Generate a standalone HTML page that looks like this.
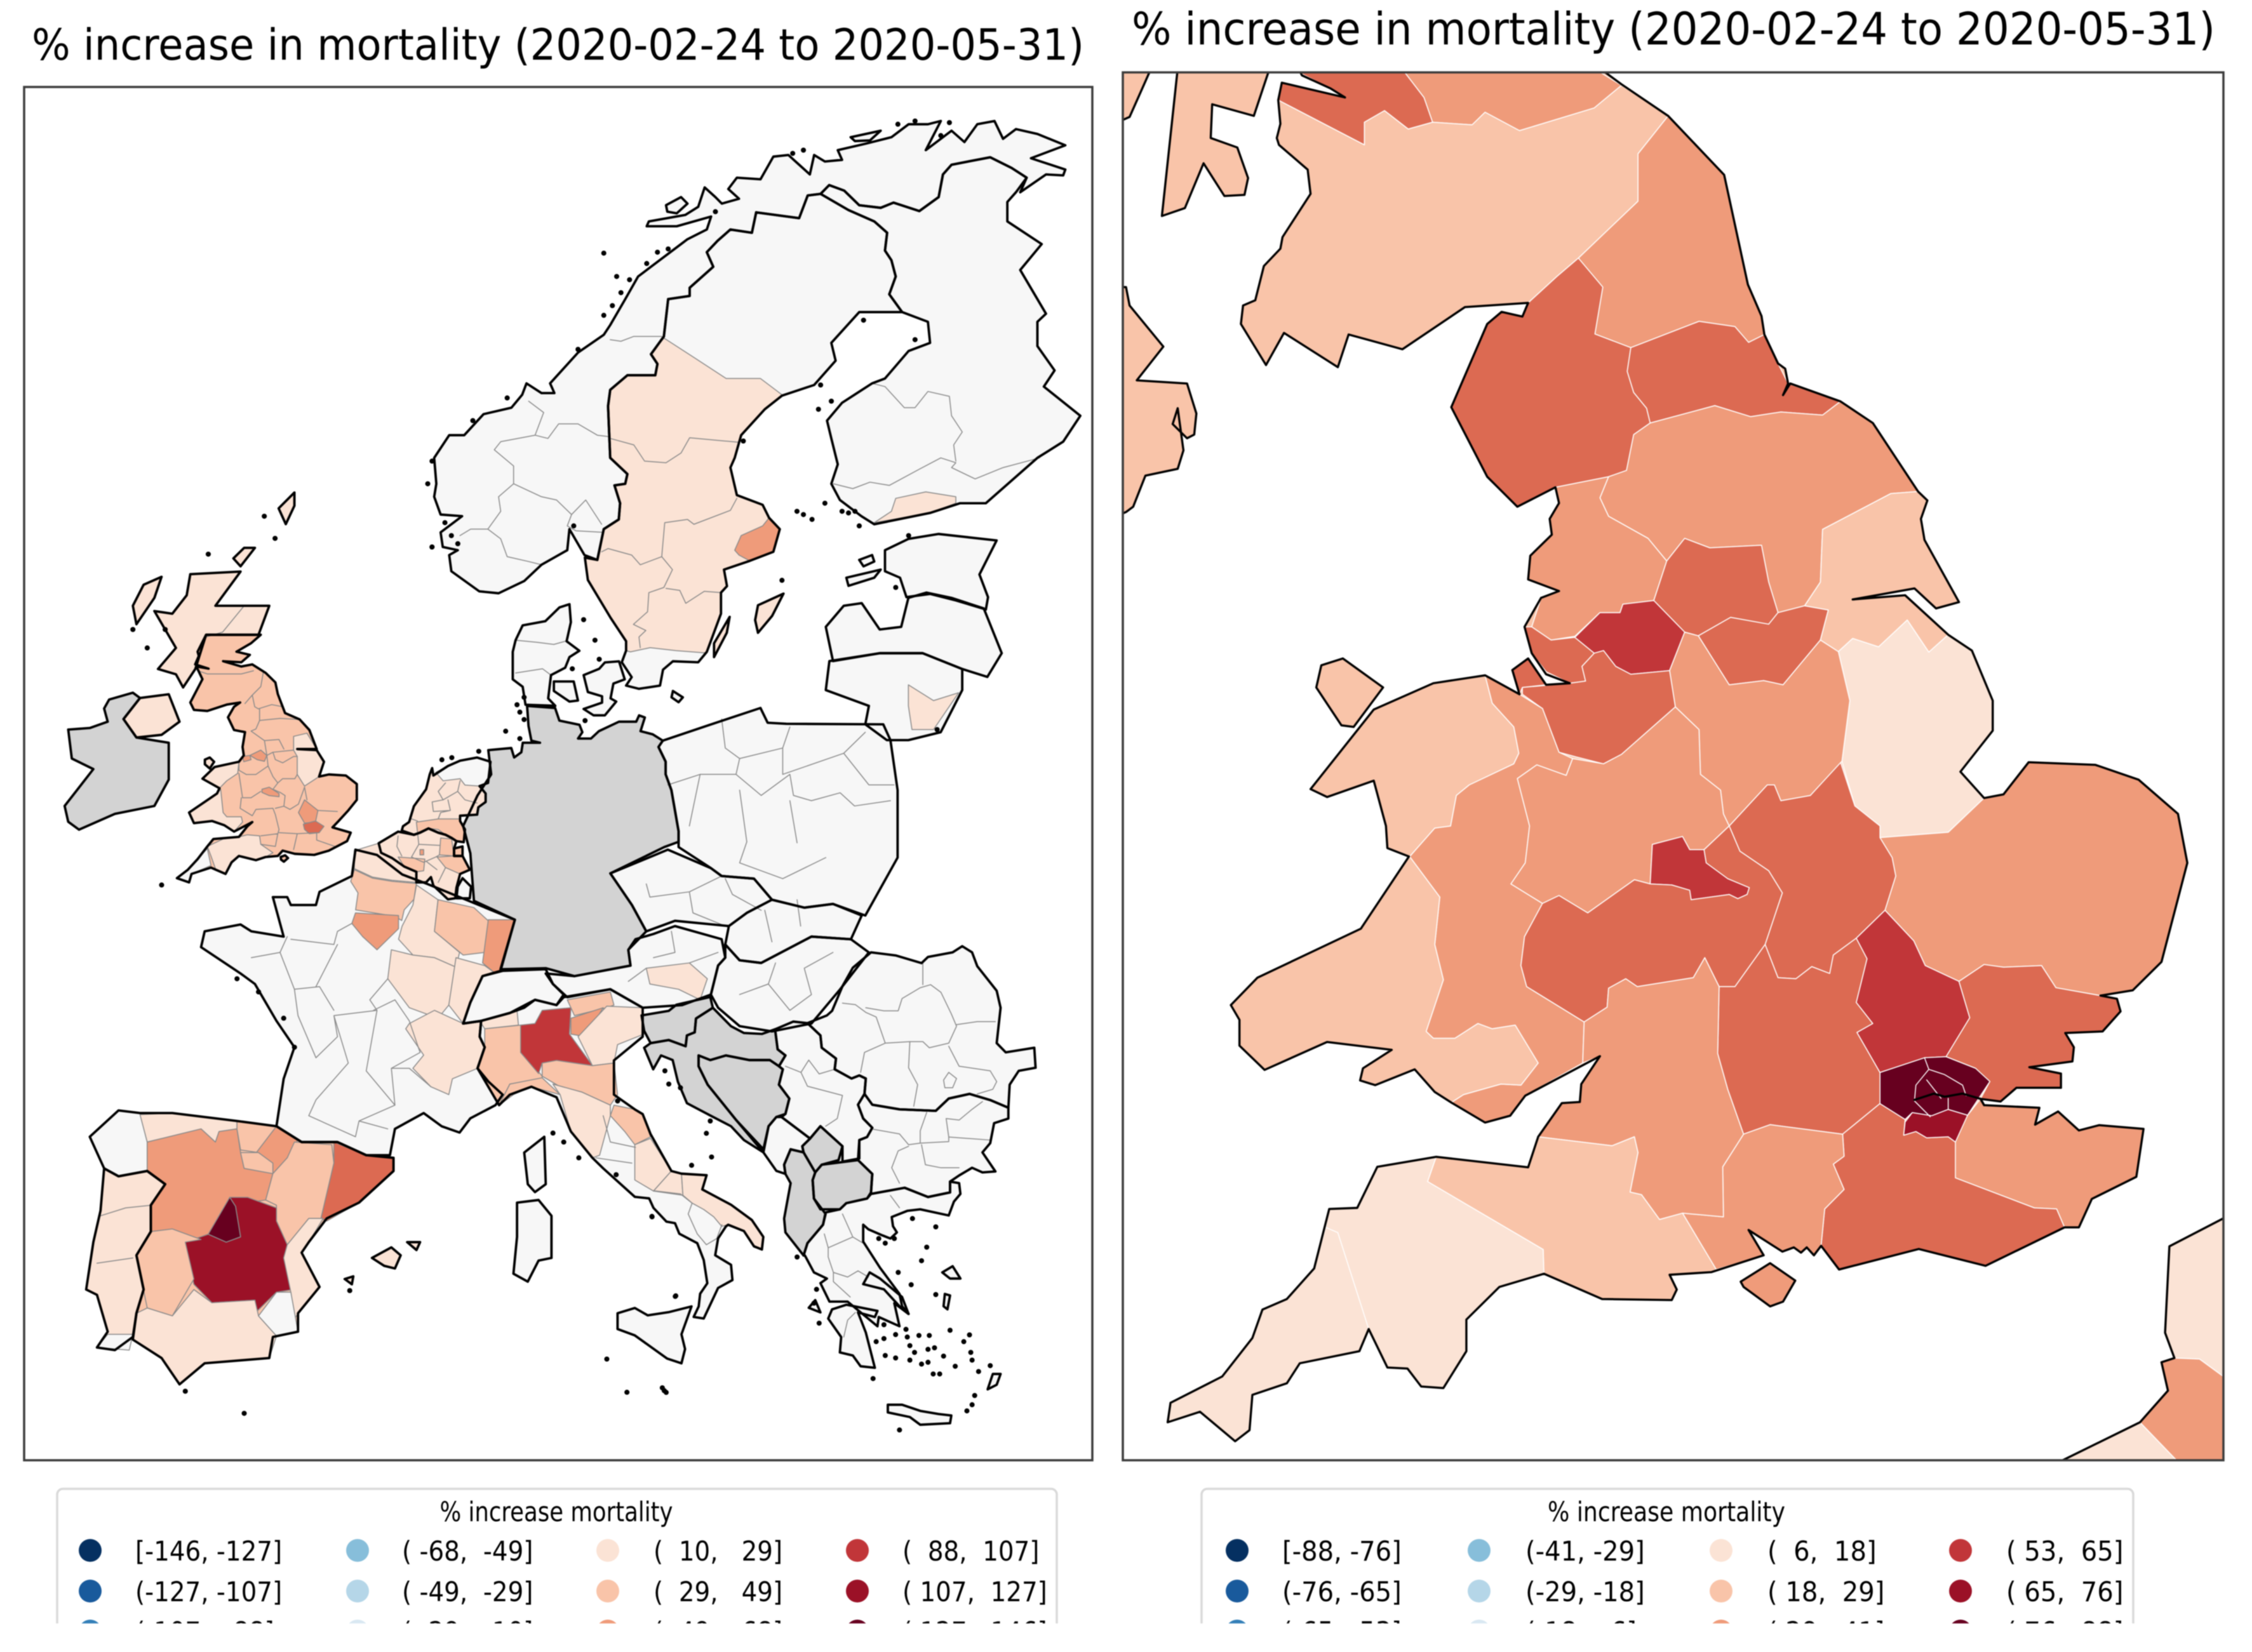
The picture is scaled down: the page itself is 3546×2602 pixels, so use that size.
<!DOCTYPE html>
<html lang="en">
<head>
<meta charset="utf-8">
<title>% increase in mortality maps</title>
<style>
html,body{margin:0;padding:0;background:#fff}
svg{display:block;filter:blur(.7px)}
text{font-family:"DejaVu Sans","Liberation Sans",sans-serif;fill:#000;white-space:pre}
polygon,polyline,path{vector-effect:non-scaling-stroke;stroke-linejoin:round;stroke-linecap:round}
#left-regions polygon{stroke:#8a8a8a;stroke-width:1.5}
#right-regions polygon{stroke:#fff;stroke-width:1.5}
.inner-left{fill:none;stroke:#8a8a8a;stroke-width:1.5}
.inner-right{fill:none;stroke:#fff;stroke-width:1.5}
.outline{fill:none!important;stroke:#000!important;stroke-width:3.4!important}
#left-outlines .outline{stroke-width:3.8!important}
.coast{fill:none;stroke:#000;stroke-width:3.4}
.dots{fill:none;stroke:#000;stroke-width:8}
</style>
</head>
<body>
<svg id="figure" xmlns="http://www.w3.org/2000/svg" width="3546" height="2602" viewBox="0 0 3546 2602">
<defs>
<clipPath id="clip-left"><rect x="38" y="137" width="1682" height="2163"/></clipPath>
<clipPath id="clip-right"><rect x="1768" y="114" width="1733" height="2186"/></clipPath>
<clipPath id="clip-legend"><rect x="0" y="2330" width="3546" height="227"/></clipPath>
</defs>
<rect width="3546" height="2602" fill="#fff"/>

<text x="50" y="94" font-size="68" textLength="1657" lengthAdjust="spacingAndGlyphs">% increase in mortality (2020-02-24 to 2020-05-31)</text>
<text x="1782" y="70" font-size="70" textLength="1706" lengthAdjust="spacingAndGlyphs">% increase in mortality (2020-02-24 to 2020-05-31)</text>

<g clip-path="url(#clip-left)">
<g id="left-map" transform="scale(1.1307 0.8297)">
<g id="left-regions">
<g id="left-top">
<polygon class="c" data-region="latvia" points="1265,1135 1290,1125 1325,1135 1370,1155 1395,1240 1375,1285 1340,1270 1285,1240 1225,1240 1160,1255 1150,1190 1175,1150 1200,1145 1225,1195 1255,1190"/>
<polygon class="c" data-region="lithuania" points="1155,1255 1225,1240 1285,1240 1340,1270 1340,1310 1310,1390 1265,1405 1235,1405 1205,1375 1210,1340 1150,1310"/>
<polygon data-region="vilnius" points="1265,1300 1300,1330 1335,1315 1300,1385 1270,1385 1265,1340"/>
<polygon class="c" data-region="germany" points="734,1340 773,1344 779,1368 807,1376 811,1390 805,1402 823,1402 834,1388 862,1370 886,1370 890,1358 898,1362 892,1388 909,1394 923,1406 917,1418 927,1446 927,1470 935,1500 945,1578 945,1598 925,1608 850,1658 880,1718 900,1768 875,1803 878,1833 800,1853 760,1838 697,1840 717,1746 660,1710 655,1620 645,1568 665,1510 684,1470 680,1424 712,1420 716,1438 726,1428 728,1410 752,1410 740,1406 736,1378"/>
<polygon class="c" data-region="poland" points="923,1406 984,1378 1059,1344 1069,1372 1095,1374 1230,1375 1240,1405 1250,1500 1250,1568 1250,1628 1205,1738 1160,1716 1120,1723 1075,1708 1050,1668 1005,1663 990,1648 945,1608 945,1578 935,1500 927,1470 927,1446 917,1418"/>
<polygon class="c" data-region="ireland" points="95,1385 125,1382 150,1370 145,1345 152,1328 185,1315 195,1325 172,1365 190,1400 235,1410 235,1480 215,1530 160,1545 110,1575 95,1560 90,1530 110,1495 130,1460 100,1440"/>
<polygon class="c" data-region="northern-ireland" points="172,1365 195,1325 235,1318 250,1370 225,1395 190,1400"/>
<polygon class="c" data-region="outer-hebrides" points="225,1095 200,1110 185,1150 190,1185 215,1135"/>
<polygon class="c" data-region="shetland" points="410,935 388,965 398,995 410,960"/>
<polygon class="c" data-region="orkney" points="340,1040 325,1060 335,1075 355,1040"/>
<polygon class="c" data-region="scottish-highlands" points="265,1090 335,1085 300,1150 375,1150 360,1205 287,1205 272,1270 255,1305 245,1280 220,1270 245,1230 215,1160 240,1165 260,1130"/>
<polygon class="c" data-region="france" points="495,1613 525,1623 560,1660 595,1678 640,1703 717,1746 697,1843 672,1853 655,1903 645,1943 670,1938 668,1968 675,1988 665,2028 680,2053 700,2078 690,2098 655,2123 640,2150 615,2138 590,2113 550,2143 543,2193 510,2193 470,2168 420,2168 385,2138 395,2048 410,1988 385,1938 355,1868 335,1848 280,1798 285,1768 335,1755 350,1768 395,1778 380,1703 400,1703 405,1718 440,1718 445,1693 490,1663"/>
</g>

<g id="left-scandinavia" transform="translate(583.7 192.8) scale(0.5979 0.6149)">
<polygon class="c" data-region="norway" points="185,1518 140,1512 75,1450 70,1400 90,1385 55,1375 50,1330 100,1280 50,1275 35,1220 40,1180 35,1100 70,1030 105,1030 150,965 215,945 240,905 250,870 285,900 315,900 305,870 370,775 430,720 445,690 480,610 510,540 540,510 610,440 625,425 670,395 680,355 600,385 530,385 535,370 620,350 650,325 665,265 690,295 705,315 745,300 720,270 740,235 795,240 825,170 860,165 885,195 910,225 920,165 945,185 985,180 975,150 1040,130 1100,110 1140,70 1185,70 1215,60 1180,150 1240,90 1270,125 1300,70 1340,60 1360,115 1390,85 1440,100 1505,135 1425,175 1505,210 1500,228 1460,225 1400,280 1415,235 1380,205 1330,172 1240,195 1220,225 1210,295 1165,338 1105,312 1075,328 1025,320 990,275 955,258 935,285 905,290 885,360 785,342 775,405 725,395 695,430 670,465 685,510 630,575 630,600 580,610 570,725 540,780 555,810 550,845 485,845 445,890 440,940 445,1100 485,1150 480,1180 455,1185 468,1240 465,1290 430,1320 415,1415 385,1400 350,1320 345,1385 285,1430 245,1480"/>
<polygon class="c" data-region="vesteralen" points="575,320 610,295 625,315 600,345 578,340"/>
<polygon class="c" data-region="soroya" points="1005,110 1075,90 1050,120 1015,122"/>
<polygon class="c" data-region="sweden-north" points="935,285 1000,335 1060,370 1090,405 1085,460 1100,490 1110,540 1095,595 1125,650 1025,650 960,745 970,800 920,875 845,908 805,950 750,1030 735,1100 725,1130 740,1215 800,1245 815,1285 840,1320 825,1390 770,1418 710,1445 717,1496 703,1516 703,1581 670,1699 650,1731 591,1728 568,1754 561,1803 512,1813 482,1803 495,1777 472,1731 482,1695 482,1666 446,1594 393,1477 386,1408 415,1415 430,1320 465,1290 468,1240 455,1185 480,1180 485,1150 445,1100 440,940 445,890 485,845 550,845 555,810 540,780 570,725 580,610 630,600 630,575 685,510 670,465 695,430 725,395 775,405 785,342 885,360 905,290"/>
<polygon data-region="sweden-central" points="570,730 640,790 715,855 795,855 845,905 805,950 750,1030 735,1100 725,1130 740,1215 800,1245 815,1285 840,1320 825,1390 770,1418 710,1445 717,1496 703,1516 703,1581 670,1699 664,1702 598,1695 538,1686 492,1699 482,1695 482,1666 446,1594 393,1477 386,1408 415,1415 430,1320 465,1290 468,1240 455,1185 480,1180 485,1150 445,1100 440,940 445,890 485,845 550,845 555,810 540,780"/>
<polygon data-region="stockholm" points="815,1285 840,1320 825,1390 770,1418 745,1400 735,1385 750,1340 800,1310"/>
<polygon class="c" data-region="finland" points="935,285 955,258 990,275 1025,320 1075,328 1105,312 1165,338 1210,295 1220,225 1240,195 1330,172 1380,205 1415,235 1390,280 1370,310 1370,370 1450,440 1400,520 1460,655 1440,680 1440,755 1480,830 1455,880 1540,970 1500,1050 1440,1100 1320,1240 1260,1240 1190,1270 1060,1305 1030,1280 980,1230 960,1180 975,1120 960,1040 950,985 985,930 1020,900 1055,870 1085,855 1140,770 1190,745 1185,680 1125,650 1095,595 1110,540 1100,490 1085,460 1090,405 1060,370 1000,335"/>
<polygon data-region="helsinki" points="1060,1300 1100,1265 1110,1225 1180,1205 1250,1220 1250,1240 1190,1270"/>
<polygon class="c" data-region="estonia" points="1085,1385 1140,1350 1210,1335 1345,1355 1305,1460 1325,1530 1320,1568 1250,1540 1190,1520 1135,1530 1120,1470 1085,1450"/>
<polygon class="c" data-region="saaremaa" points="995,1470 1075,1445 1060,1470 1000,1495"/>
<polygon class="c" data-region="hiiumaa" points="1025,1415 1055,1400 1060,1420 1035,1435"/>
<path class="inner-left" d="M445,735 470,740 500,725 565,725M255,925 290,960 270,1030 300,1040 325,995 370,995 415,1030 445,1035M270,1030 190,1050 175,1075 220,1125 220,1180 185,1220 190,1265 160,1320 190,1350 205,1405 255,1420 285,1430M220,1180 285,1220 320,1230 355,1275 388,1230 425,1305M355,1275 345,1310 365,1325 430,1330M160,1320 120,1320 95,1340M445,1040 500,1060 525,1110 575,1115 610,1085 630,1038 745,1052M740,1225 725,1262 640,1305 625,1290 572,1300 565,1405 515,1430 495,1400 440,1380 425,1390M565,1405 590,1445 570,1500 535,1516 532,1575 499,1614 528,1633 512,1653 515,1686M575,1503 607,1509 621,1549 664,1512 703,1516M965,1180 1010,1195 1050,1175 1095,1185 1165,1135 1215,1100 1250,1115 1240,1130 1295,1165 1360,1130 1445,1100M1055,870 1085,880 1130,945 1155,945 1185,895 1235,910 1240,970 1265,1020 1245,1060 1250,1110"/>
</g>

<g id="left-denmark" transform="translate(566 903.9) scale(0.3948 0.4018)">
<polygon class="c" data-region="jutland" points="575,605 540,620 490,685 410,705 385,775 375,830 375,960 410,995 420,1080 525,1085 500,1050 510,940 560,905 575,855 610,825 565,780 580,690"/>
<polygon class="c" data-region="fyn" points="520,970 590,970 605,1060 575,1065 520,1015"/>
<polygon class="c" data-region="zealand" points="625,940 680,910 700,880 750,875 770,960 730,980 720,1050 740,1065 700,1130 660,1130 625,1100 690,1070 690,1040 640,1020"/>
<polygon class="c" data-region="gotland" points="1330,555 1240,610 1230,680 1240,740 1290,660"/>
<polygon class="c" data-region="oland" points="1140,665 1085,790 1085,855 1130,740"/>
<polygon class="c" data-region="bornholm" points="940,1015 975,1045 960,1068 935,1045"/>
<path class="inner-left" d="M385,775 460,785 520,795 560,780M385,930 480,910 510,940"/>
</g>

<g id="left-uk" transform="translate(221 1205) scale(0.3385 0.4018)">
<polygon class="c" data-region="great-britain" points="195,0 420,0 380,40 320,80 375,95 340,130 265,125 340,150 385,140 440,180 480,225 490,280 520,370 580,400 620,450 650,540 570,540 650,545 680,600 660,670 700,660 770,665 815,705 815,780 780,830 740,880 715,910 790,935 775,975 700,1020 640,1040 560,1035 510,1020 490,1045 440,1050 400,1065 330,1045 300,1075 275,1130 235,1110 215,1100 135,1130 125,1170 75,1150 120,1110 160,1060 200,1000 225,965 330,955 365,905 385,885 310,930 270,900 220,880 145,890 125,840 240,750 250,725 180,680 230,625 330,600 350,570 345,530 355,460 310,450 285,390 310,340 335,320 280,330 200,360 145,355 130,320 180,210 155,150 205,160 150,140 165,100 160,80"/>
<polygon data-region="devon-dorset" points="265,965 330,955 365,945 415,950 420,990 470,1030 440,1050 400,1065 330,1045 300,1075 275,1130 235,1110 215,1045 200,1000"/>
<polygon data-region="cornwall" points="200,1010 215,1090 135,1130 125,1170 75,1150 120,1110 160,1060"/>
<polygon data-region="north-wales" points="230,625 330,600 325,655 280,690 250,725 180,680"/>
<polygon data-region="south-wales" points="255,730 265,840 280,860 340,860 345,885 310,930 270,900 220,880 145,890 125,840 240,750"/>
<polygon data-region="lincolnshire" points="555,480 610,465 650,540 570,540 650,545 680,600 660,670 600,715 570,660 570,575 555,545"/>
<polygon data-region="greater-manchester" points="375,570 420,545 445,570 435,598 405,590"/>
<polygon data-region="merseyside" points="345,575 375,570 380,590 350,600"/>
<polygon data-region="west-midlands" points="425,730 455,720 495,750 495,765 455,760 425,745"/>
<polygon data-region="herts-beds" points="600,780 655,830 645,885 600,890 575,840"/>
<polygon data-region="london" points="595,895 645,880 680,905 660,935 620,940 600,920"/>
<polygon class="c" data-region="isle-of-wight" points="502,1050 520,1042 532,1055 515,1072 503,1062"/>
<polygon class="c" data-region="anglesey" points="190,590 210,580 228,600 210,632 190,612"/>
<polygon class="c" data-region="netherlands" points="1115,660 1125,630 1130,665 1190,620 1240,595 1310,580 1365,600 1355,700 1320,715 1345,750 1345,790 1315,815 1310,850 1240,855 1240,880 1260,920 1255,980 1225,975 1205,960 1180,945 1150,935 1110,915 1075,935 1050,945 1000,925 1005,905 1030,885 1050,810 1100,730"/>
<polygon data-region="groningen" points="1190,620 1240,595 1310,580 1365,600 1355,700 1320,715 1260,710 1240,680 1170,690 1140,650"/>
<polygon data-region="limburg-nl" points="1060,885 1150,870 1240,870 1260,920 1255,980 1225,975 1205,960 1180,945 1150,920 1110,915 1065,935"/>
<polygon class="c" data-region="belgium" points="905,985 985,930 1050,945 1075,935 1110,915 1150,935 1180,945 1205,960 1225,975 1215,1010 1215,1045 1250,1045 1280,1110 1240,1130 1225,1195 1220,1245 1190,1250 1130,1185 1120,1145 1100,1170 1060,1170 1060,1120 1010,1095 960,1055 915,1030"/>
<polygon data-region="hainaut" points="985,1050 1095,1060 1090,1115 1060,1120 1010,1095"/>
<polygon data-region="liege" points="1145,1050 1215,1045 1250,1045 1280,1110 1240,1130 1180,1100"/>
<polygon data-region="limburg-be" points="1160,960 1205,965 1215,1045 1155,1040"/>
<polygon data-region="brussels" points="1075,1015 1090,1015 1090,1040 1075,1040"/>
<polygon class="c" data-region="eupen" points="1215,1010 1250,1000 1250,1045 1215,1045"/>
<polygon class="c" data-region="luxembourg" points="1250,1150 1285,1190 1280,1245 1225,1245 1230,1190"/>
<polygon data-region="nord" points="805,1020 905,985 915,1030 960,1055 1010,1095 1060,1120 1060,1170 960,1160 880,1145 805,1105"/>
<polygon data-region="picardy" points="805,1110 880,1150 960,1165 1060,1175 1050,1250 1010,1300 1000,1350 970,1330 810,1300 820,1220 790,1165"/>
<path class="inner-left" d="M160,170 200,185 260,185 340,185 390,170M430,180 420,245 385,285 355,325M385,285 395,340 410,350 465,330 510,340M415,350 415,405 400,445 380,455 435,500 495,495 515,540M415,405 500,395 575,400M435,500 445,570 470,555 555,545M470,555 480,590 510,605 555,575 570,575M445,570 450,620 470,670 490,700 510,680 560,680 570,660M450,620 400,660 360,660 330,640 330,600M330,655 345,770 380,770 420,740M490,700 470,730 500,745 520,760 515,810 540,825 575,800 600,720M340,770 335,820 385,855 400,825 470,820 480,850 495,920 490,940 420,950M480,820 515,810M600,720 610,780M655,830 735,835M495,935 570,940 555,1015M490,940 480,1000 420,990M570,940 650,935 650,970 725,1000M1180,700 1150,740 1170,780 1230,740 1240,690M1170,780 1125,790 1130,835 1200,830 1190,780M1230,740 1260,780 1310,795M1150,870 1160,840 1200,830M1065,880 1040,870M985,950 980,1000 1000,1045M1065,935 1070,990 1040,1050 1090,1075 1140,1050 1155,1040M1070,990 1155,995M1180,1100 1150,1170M1145,1110 1100,1070"/>
</g>

<g id="left-bottom" transform="translate(0 1568)">
<polygon data-region="ile-de-france" points="495,165 555,170 555,195 525,235 505,210 490,185"/>
<polygon data-region="champagne" points="580,112 610,140 605,200 640,240 635,268 605,250 575,245 555,215 560,190 575,150"/>
<polygon data-region="lorraine" points="610,140 660,155 680,180 675,240 645,245 605,200"/>
<polygon data-region="alsace" points="680,178 717,178 697,275 690,280 672,260"/>
<polygon data-region="burgundy" points="545,235 575,245 605,250 635,268 625,340 610,365 570,345 540,290"/>
<polygon data-region="franche-comte" points="635,250 675,265 690,280 660,320 645,375 625,340"/>
<polygon data-region="rhone-alpes" points="570,375 605,350 645,375 670,372 668,400 675,420 665,460 630,480 625,510 600,495 575,460 590,435 565,385"/>
<polygon class="c" data-region="switzerland" points="672,285 700,275 760,272 770,300 785,320 775,340 745,330 730,345 710,355 670,370 645,375 655,335"/>
<polygon class="c" data-region="austria" points="760,280 800,285 878,265 875,235 885,215 910,205 940,190 1005,215 1010,250 1000,265 990,320 950,340 895,345 850,310 790,325 770,300"/>
<polygon data-region="vienna-styria" points="900,270 960,260 985,290 975,330 945,310 905,300"/>
<polygon class="c" data-region="czechia" points="850,90 930,45 990,80 1005,95 1050,100 1075,140 1040,165 1015,190 940,180 900,200 880,150"/>
<polygon class="c" data-region="slovakia" points="1040,165 1075,140 1120,155 1160,148 1200,170 1185,215 1130,210 1060,260 1030,255 1010,225 1015,190"/>
<polygon class="c" data-region="hungary" points="1010,225 1030,255 1060,260 1130,210 1185,215 1210,240 1170,310 1130,375 1075,390 1030,380 1000,345 990,320 1000,265 1010,250"/>
<polygon class="c" data-region="italy" points="645,375 670,370 710,355 745,330 775,340 785,325 850,310 895,345 895,385 895,400 855,445 855,510 884,538 895,547 906,585 935,655 949,660 984,663 978,690 1018,719 1047,748 1063,780 1061,804 1050,798 1036,769 1014,757 1011,760 1000,783 996,815 1018,833 1020,862 1000,877 980,935 966,932 973,912 975,888 985,868 980,824 971,792 946,774 940,754 928,751 910,725 904,707 884,704 840,650 825,630 795,580 775,515 740,495 710,510 695,530 665,460 675,420 668,400 670,370"/>
<polygon data-region="piedmont" points="675,385 725,378 735,420 735,440 755,475 755,480 710,490 695,530 665,460 675,420"/>
<polygon data-region="aosta" points="668,370 720,350 722,378 675,385"/>
<polygon data-region="lombardy" points="725,378 745,375 755,350 795,345 793,395 825,455 775,445 755,450 750,470 725,430"/>
<polygon data-region="trentino" points="795,345 790,330 850,315 855,340 845,345 800,360"/>
<polygon data-region="verona" points="795,365 840,345 815,400 795,395"/>
<polygon data-region="veneto" points="845,342 895,345 897,395 860,415 855,450 825,455 805,400"/>
<polygon data-region="emilia" points="755,450 775,445 825,455 855,450 860,510 850,530 810,505 780,495 755,475"/>
<polygon data-region="liguria" points="710,490 755,478 780,510 740,495 715,510 695,530"/>
<polygon data-region="tuscany" points="770,490 810,505 850,530 850,550 835,625 825,630 795,580 780,510"/>
<polygon data-region="marche" points="855,530 884,538 895,547 906,590 884,605 870,580 850,550"/>
<polygon data-region="abruzzo" points="884,605 906,593 935,655 910,693 884,672"/>
<polygon data-region="molise" points="935,655 949,660 951,701 910,693"/>
<polygon data-region="puglia" points="949,660 984,663 978,690 1018,719 1047,748 1063,780 1061,804 1050,798 1036,769 1014,757 1005,760 994,742 980,728 964,716 951,701"/>
<polygon class="c" data-region="sicily" points="860,925 884,915 902,929 931,923 963,912 949,965 954,993 949,1020 929,1011 884,967 860,955"/>
<polygon class="c" data-region="sardinia" points="720,715 750,710 768,740 768,820 750,825 735,865 715,850 720,780"/>
<polygon class="c" data-region="corsica" points="758,590 760,680 745,695 735,680 730,620"/>
<polygon class="c" data-region="spain" points="125,590 165,540 195,545 240,545 330,560 385,570 420,600 470,600 510,625 548,630 548,655 500,715 455,745 430,790 420,810 445,875 415,925 415,960 380,970 375,1010 285,1020 250,1060 225,1010 185,975 190,925 200,880 190,815 210,770 210,720 230,680 205,655 165,665 145,650 135,620"/>
<polygon class="c" data-region="portugal" points="145,650 165,665 205,655 230,680 210,720 210,770 190,815 200,880 190,925 185,970 160,995 135,990 150,960 135,890 120,880 130,790 140,730"/>
<polygon data-region="algarve" points="135,990 150,965 185,965 180,995"/>
<polygon data-region="galicia" points="125,590 165,540 195,545 205,600 205,655 165,665 145,650 135,620"/>
<polygon data-region="asturias" points="195,548 240,545 330,560 330,575 305,580 300,600 280,575 205,600"/>
<polygon data-region="castilla-leon" points="205,600 280,575 300,600 305,580 330,575 335,620 340,650 380,660 370,710 345,715 320,705 290,775 280,785 240,765 210,770 210,720 230,680 205,655"/>
<polygon data-region="basque" points="330,560 385,570 360,620 335,615 330,575"/>
<polygon data-region="navarra" points="385,570 415,595 400,630 380,660 357,620"/>
<polygon data-region="la-rioja" points="335,620 360,620 380,640 380,660 340,650"/>
<polygon data-region="aragon" points="410,600 462,605 465,640 447,745 430,745 400,795 385,750 385,720 370,710 380,660 400,630"/>
<polygon data-region="catalonia" points="465,600 510,625 548,630 548,655 500,715 455,750 447,745 465,640"/>
<polygon data-region="castilla-la-mancha" points="320,705 345,705 385,725 385,750 400,795 395,820 408,880 385,885 355,925 355,900 295,905 270,870 258,790 290,775 315,790 335,780 328,722"/>
<polygon data-region="madrid" points="320,705 290,775 315,790 335,780 328,722"/>
<polygon data-region="extremadura" points="210,770 240,765 280,785 258,790 270,860 240,930 205,915 190,815"/>
<polygon data-region="andalusia" points="190,925 205,915 240,930 270,880 295,905 355,900 360,930 385,968 375,1010 285,1020 250,1060 225,1010 185,975"/>
<polygon data-region="valencia" points="400,795 430,745 450,745 430,790 420,810 445,875 410,935 405,885 395,820"/>
<polygon data-region="murcia" points="385,885 405,885 415,960 385,968 360,930"/>
<polygon class="c" data-region="mallorca" points="518,820 545,800 558,815 550,840 535,835"/>
<polygon class="c" data-region="menorca" points="567,790 585,790 580,805"/>
<polygon class="c" data-region="ibiza" points="480,860 492,855 490,870"/>
<path class="inner-left" d="M1040,30 1030,70 1090,100 1150,60M900,110 905,135 960,125 1005,95M960,125 965,165 1010,190M1010,100 1020,130 1060,160M1065,160 1075,220M1110,140 1115,190M1030,320 1070,300 1080,260M1070,300 1100,350 1130,320 1120,270 1160,240M875,295 900,270M935,200 940,240 910,250M1000,240 960,260M350,250 390,240 400,210M390,240 410,310 415,360 440,440 470,400 465,360 525,350 515,330 540,290M465,360 485,450 440,520 430,550 495,590 500,560 550,530 510,465 525,350M410,310 445,305 465,350M405,215 465,225 470,200 490,185M470,225 440,305M550,530 545,460 570,460 600,495M500,560 540,575M520,350 550,330 570,370 585,430 545,460M840,550 850,600 885,610M830,630 880,640M140,740 175,725 210,720M135,830 185,820"/>
</g>

<g id="left-balkans" transform="translate(884.4 1807.9) scale(0.361 0.5842)">
<polygon class="c" data-region="romania" points="910,0 1005,10 1105,35 1130,15 1225,0 1262,-20 1300,0 1320,45 1395,125 1410,180 1395,295 1430,325 1540,310 1545,375 1480,385 1445,430 1440,505 1370,480 1290,460 1210,475 1160,515 1020,510 915,495 885,460 890,410 865,400 835,410 770,380 775,345 720,310 715,270 665,230 740,205 760,190 800,110 840,50"/>
<polygon class="c" data-region="bulgaria" points="885,460 915,495 1020,510 1160,515 1210,475 1290,460 1370,480 1440,505 1440,540 1385,555 1370,620 1340,650 1390,712 1340,715 1300,700 1250,725 1215,745 1215,780 1130,795 1040,765 910,785 915,720 860,675 865,610 895,600 915,570 880,540 860,495"/>
<polygon class="c" data-region="serbia" points="540,250 610,225 665,230 715,270 720,310 775,345 770,380 835,410 865,400 890,410 885,460 860,495 880,540 915,570 895,600 865,610 865,670 800,680 800,630 715,565 675,605 565,535 580,525 595,475 555,430 570,380 555,370 580,335 550,315"/>
<polygon class="c" data-region="slovenia" points="25,205 130,190 160,170 290,145 300,180 235,215 230,260 200,270 195,305 130,285 60,295 35,255"/>
<polygon class="c" data-region="croatia" points="60,295 130,285 195,305 200,270 230,260 235,215 300,180 370,240 420,262 490,265 540,250 550,315 580,335 555,370 520,350 440,350 350,335 290,350 245,335 245,370 280,430 390,545 495,650 420,610 370,565 290,530 200,490 165,420 145,350 100,335 70,380 35,310"/>
<polygon class="c" data-region="bosnia" points="245,335 290,350 350,335 440,350 520,350 555,370 570,380 555,430 595,475 580,525 545,535 515,565 495,640 390,545 280,430 245,370"/>
<polygon class="c" data-region="montenegro" points="565,535 675,605 645,630 650,650 600,640 575,690 580,720 545,710 495,650 515,565 545,535"/>
<polygon class="c" data-region="kosovo" points="715,565 800,630 785,675 720,690 695,715 650,650 645,630 675,605"/>
<polygon class="c" data-region="north-macedonia" points="695,715 720,690 860,675 915,720 910,780 895,800 815,815 790,835 715,835 690,800 685,740"/>
<polygon class="c" data-region="albania" points="575,690 600,640 650,650 695,715 685,740 690,800 735,850 725,885 665,945 650,985 580,910 575,865 600,750 580,720"/>
<polygon class="c" data-region="greece" points="650,985 665,945 725,885 735,845 790,835 815,815 895,800 910,785 1040,765 1130,795 1215,780 1215,745 1250,750 1255,785 1230,810 1210,855 1100,835 1050,840 990,860 995,890 1010,910 985,930 955,920 900,900 880,885 880,940 945,1025 1020,1110 1030,1150 1055,1175 1000,1140 1020,1215 940,1185 935,1215 820,1135 750,1135 715,1075 740,1060 690,1040 655,985"/>
<polygon class="c" data-region="peloponnese" points="760,1160 815,1145 935,1165 925,1185 860,1170 890,1235 925,1350 870,1345 840,1310 790,1300 795,1250 745,1190"/>
<polygon class="c" data-region="euboea" points="905,1040 945,1060 1030,1120 1055,1175 1020,1150 960,1095 880,1078"/>
<polygon class="c" data-region="lesbos" points="1185,1040 1225,1020 1255,1060 1215,1060"/>
<polygon class="c" data-region="chios" points="1195,1110 1215,1115 1205,1160 1190,1150"/>
<polygon class="c" data-region="rhodes" points="1360,1420 1380,1370 1410,1370 1395,1405"/>
<polygon class="c" data-region="kefalonia" points="670,1155 695,1130 715,1170"/>
<polygon class="c" data-region="crete" points="975,1470 1030,1470 1100,1490 1170,1500 1220,1505 1215,1530 1100,1535 1060,1510 975,1495"/>
<path class="inner-left" d="M580,370 640,390 670,350 710,395 770,380M640,390 665,435 800,465 780,540 735,565M800,165 850,170 890,195 930,210 965,295 1060,290 1110,290 1135,310 1210,295 1240,240 1220,200 1180,130 1140,105 1100,115 1030,150 1015,190 960,190 890,180M1110,35 1110,105M1240,235 1320,225 1390,225M965,295 885,325 870,390M1060,290 1055,375 1090,430 1075,500M1210,305 1250,370 1370,385 1395,420 1380,445 1320,460M1190,415 1210,390 1240,410 1225,440 1195,440 1190,415M1125,520 1100,580 1100,620 1055,625 1020,590 920,575M1055,630 1015,645 990,700 1020,750M1100,620 1210,615 1210,600 1370,610M1105,625 1120,690 1180,700 1250,700M1200,540 1250,545 1300,510 1340,485M1200,540 1210,600M985,790 1020,830M800,850 840,925 880,945M840,925 745,960 745,990 765,1040 765,1070 830,1120M745,960 730,915M765,1040 820,1055 860,1035 900,1055M850,1170 820,1195 805,1250M75,775 175,785 220,815 205,850 240,915 275,950 315,930 335,885"/>
</g>

<g id="left-top-lines">
<path class="inner-left" d="M1005,1365 1010,1420 1030,1440 1090,1420 1100,1380M1090,1420 1090,1470 1175,1430 1205,1390M1175,1430 1210,1490 1245,1490M1030,1440 1025,1470 975,1470 930,1490M1025,1470 1060,1510 1100,1470M1100,1470 1105,1510 1130,1520 1170,1505 1190,1530 1240,1520M975,1470 960,1568M1030,1500 1040,1598M1100,1520 1110,1600M340,1150 310,1200 285,1210"/>
</g>
</g>

<g id="left-outlines"></g>

<path class="dots" d="M290,1052h.1M383,1022h.1M368,980h.1M185,1195h.1M205,1230h.1M230,1195h.1M1305,1385h.1"/>
<path class="dots" transform="translate(583.7 192.8) scale(0.5979 0.6149)" d="M430,468h.1M460,540h.1M1155,735h.1M935,875h.1M930,950h.1M960,925h.1M1035,675h.1M755,1048h.1M1025,1310h.1M845,1478h.1M30,1110h.1M20,1180h.1M125,985h.1M370,765h.1M690,340h.1M1115,70h.1M1155,60h.1M1235,65h.1M30,1375h.1M205,915h.1M880,1265h.1M895,1275h.1M915,1290h.1M945,1240h.1M985,1265h.1M1000,1270h.1M1015,1265h.1M1140,1340h.1M1110,1500h.1M1215,105h.1M895,150h.1M870,160h.1M430,660h.1M450,630h.1M470,590h.1M490,550h.1M530,500h.1M555,465h.1M580,455h.1M60,1300h.1M75,1340h.1M90,1365h.1"/>
<path class="dots" transform="translate(566 903.9) scale(0.3948 0.4018)" d="M625,678h.1M665,775h.1M680,865h.1M585,910h.1M590,235h.1M90,335h.1M630,1155h.1M415,1045h.1M390,1080h.1M400,1115h.1M415,1150h.1M350,1205h.1M400,1240h.1M125,1340h.1M160,1330h.1M255,1300h.1"/>
<path class="dots" transform="translate(884.4 1807.9) scale(0.361 0.5842)" d="M115,385h.1M130,428h.1M175,440h.1M290,548h.1M275,588h.1M295,665h.1M218,692h.1M65,858h.1M155,1118h.1M105,1415h.1M120,1430h.1M1070,865h.1M1160,892h.1M1125,958h.1M1105,1002h.1M1015,1040h.1M1065,1080h.1M1160,1112h.1M1045,1225h.1M1050,1250h.1M1005,1242h.1M1095,1245h.1M1135,1245h.1M1060,1278h.1M1078,1300h.1M1130,1290h.1M1155,1285h.1M965,1310h.1M1005,1318h.1M1060,1325h.1M1105,1338h.1M1130,1332h.1M1190,1312h.1M1215,1228h.1M1290,1243h.1M1268,1265h.1M1295,1300h.1M1300,1325h.1M1325,1362h.1M1370,1343h.1M1235,1345h.1M1150,1370h.1M1175,1370h.1M918,1385h.1M1020,1552h.1M1310,1440h.1M1300,1470h.1M1280,1490h.1M700,1095h.1M690,1140h.1M710,1205h.1M625,990h.1M940,930h.1M965,945h.1M1000,930h.1M960,1210h.1M960,1255h.1M930,1265h.1"/>
<path class="dots" transform="translate(0 1568)" d="M845,1012h.1M873,1075h.1M925,1072h.1M941,892h.1M908,742h.1M770,583h.1M785,600h.1M806,630h.1M858,662h.1M860,522h.1M225,112h.1M330,290h.1M360,315h.1M395,365h.1M410,420h.1M258,1073h.1M340,1115h.1M487,882h.1"/>
</g>
</g>
<rect x="38" y="137" width="1682" height="2163" fill="none" stroke="#3c3c3c" stroke-width="3.5"/>

<g clip-path="url(#clip-right)">
<g id="right-map" transform="translate(1773 0) scale(1.1307 0.8297)">
<g id="right-regions">
<polygon class="c" data-region="gb-mainland" points="660,130 690,160 755,220 833,332 866,540 885,600 889,635 908,690 918,700 922,728 915,750 925,728 995,762 1040,803 1103,933 1116,950 1107,985 1112,1025 1160,1143 1128,1155 1098,1117 1012,1138 1085,1130 1145,1205 1178,1235 1207,1330 1207,1387 1162,1465 1195,1515 1222,1508 1257,1447 1350,1452 1410,1480 1465,1545 1478,1638 1442,1826 1402,1880 1357,1890 1380,1896 1385,1920 1360,1958 1308,1961 1320,1988 1318,2015 1258,2026 1302,2038 1302,2065 1240,2065 1218,2091 1190,2086 1195,2098 1272,2103 1266,2135 1298,2110 1327,2146 1355,2136 1417,2143 1407,2234 1345,2276 1327,2330 1307,2330 1197,2403 1104,2371 993,2410 968,2365 958,2383 948,2368 940,2378 930,2368 914,2376 867,2335 888,2383 815,2415 757,2420 767,2448 760,2468 663,2466 582,2418 520,2443 474,2505 474,2565 442,2635 411,2632 392,2598 364,2596 338,2523 325,2565 242,2588 224,2626 176,2648 172,2715 152,2736 103,2680 58,2700 62,2663 134,2613 176,2540 190,2486 224,2466 262,2408 283,2295 322,2293 350,2215 432,2196 560,2216 574,2158 607,2094 632,2092 634,2058 660,2005 556,2080 535,2118 500,2131 453,2093 430,2073 402,2030 347,2060 326,2051 330,2028 370,1993 280,1978 193,2031 158,1985 158,1936 146,1908 183,1856 327,1763 394,1626 364,1610 362,1568 345,1482 280,1513 257,1498 345,1347 428,1297 500,1282 548,1318 538,1272 560,1250 585,1300 618,1297 585,1280 565,1240 555,1190 578,1135 603,1122 560,1100 563,1055 593,1015 590,985 603,955 598,925 545,962 503,905 453,773 503,615 523,592 552,601 560,575 472,583 385,663 310,635 295,697 220,632 195,693 160,615 163,580 180,570 192,505 215,472 218,450 257,368 253,322 213,275 210,262 215,235 212,190 217,157 305,185 285,168 245,143 240,130"/>
<polygon data-region="dumfries" points="212,190 217,157 305,185 285,168 240,137 388,137 415,185 427,232 393,245 360,210 332,232 332,275"/>
<polygon data-region="borders" points="388,137 660,137 690,162 652,205 548,248 500,213 482,237 427,232 415,185"/>
<polygon data-region="cumbria" points="212,190 332,275 332,232 360,210 393,245 427,232 482,237 500,213 548,248 652,205 690,162 755,220 713,292 713,382 630,490 600,525 560,575 472,583 385,663 310,635 295,697 220,632 195,693 160,615 163,580 180,570 192,505 215,472 218,450 257,368 253,322 213,275 210,262 215,235"/>
<polygon data-region="northumberland" points="755,220 833,332 866,540 885,600 889,635 867,650 848,620 798,610 703,660 653,634 664,545 630,490 713,382 713,292"/>
<polygon data-region="lancashire" points="630,490 664,545 653,634 703,660 698,705 707,745 725,775 730,803 707,825 697,893 672,905 598,925 545,962 503,905 453,773 503,615 523,592 552,601 560,575 600,525"/>
<polygon data-region="tees-valley" points="703,660 798,610 848,620 867,650 889,635 908,690 922,728 995,762 970,788 912,782 870,791 820,770 730,803 725,775 707,745 698,705"/>
<polygon data-region="north-yorkshire" points="730,803 820,770 870,791 912,782 970,788 995,762 1040,803 1103,933 1065,937 970,1005 967,1105 945,1150 908,1163 895,1105 885,1035 813,1040 778,1022 753,1065 727,1022 672,980 660,945 672,905 697,893 707,825"/>
<polygon data-region="cheshire" points="598,925 672,905 660,945 672,980 727,1022 753,1065 735,1140 692,1147 688,1163 660,1163 625,1208 592,1215 565,1190 578,1135 603,1122 560,1100 563,1055 593,1015 590,985 603,955"/>
<polygon data-region="west-yorkshire" points="778,1022 813,1040 885,1035 895,1105 908,1163 895,1185 842,1172 797,1207 778,1200 735,1140 753,1065"/>
<polygon data-region="greater-manchester-east" points="625,1210 660,1163 688,1163 692,1147 735,1140 778,1200 757,1273 703,1280 682,1265 665,1235 652,1240"/>
<polygon data-region="merseyside-north" points="565,1190 592,1215 625,1210 652,1240 635,1265 640,1293 618,1297 585,1275 565,1240 555,1190"/>
<polygon data-region="wirral" points="538,1272 560,1250 585,1300 552,1305 548,1318"/>
<polygon data-region="south-yorkshire" points="797,1207 842,1172 895,1185 908,1163 945,1150 978,1158 967,1215 915,1300 888,1292 840,1300"/>
<polygon data-region="east-yorkshire" points="1103,933 1116,950 1107,985 1112,1025 1160,1143 1128,1155 1098,1117 1012,1138 1085,1130 1145,1205 1118,1238 1088,1177 1048,1228 1012,1212 992,1237 967,1215 978,1158 945,1150 967,1105 970,1005 1065,937"/>
<polygon data-region="lincolnshire-east" points="992,1237 1012,1212 1048,1228 1088,1177 1118,1238 1145,1205 1178,1235 1207,1330 1207,1387 1162,1465 1195,1515 1145,1580 1050,1590 1050,1568 1015,1530 997,1445 1008,1330"/>
<polygon data-region="leicestershire" points="840,1568 893,1490 903,1490 912,1520 953,1510 995,1447 1015,1530 1050,1568 1050,1590 1067,1628 1072,1663 1057,1728 1017,1781 985,1813 980,1848 955,1835 933,1858 908,1856 890,1793 914,1695 895,1653 855,1616"/>
<polygon data-region="derbyshire" points="757,1273 778,1200 797,1207 840,1300 888,1292 915,1300 967,1215 992,1237 1008,1330 997,1445 953,1510 912,1520 903,1490 893,1490 840,1568 832,1545 828,1500 800,1470 798,1385 765,1342"/>
<polygon data-region="staffordshire" points="552,1305 618,1297 640,1293 635,1265 652,1240 665,1235 682,1265 703,1280 757,1273 765,1342 690,1432 665,1450 627,1437 603,1428 580,1345 552,1318"/>
<polygon data-region="herefordshire" points="500,1282 548,1318 580,1345 603,1428 622,1440 613,1472 572,1452 545,1478 562,1568 556,1638 536,1678 580,1715 555,1778 550,1833 558,1873 638,1940 636,2018 556,2080 535,2118 500,2131 453,2093 470,2078 522,2058 550,2060 574,2018 542,1946 510,1953 490,1943 458,1971 428,1971 418,1958 442,1860 430,1793 437,1703 395,1626 430,1572 452,1568 460,1510 478,1490 540,1450 547,1430 540,1380 510,1335"/>
<polygon data-region="north-wales-coast" points="500,1282 510,1335 540,1380 547,1430 540,1450 478,1490 460,1510 452,1568 430,1572 395,1626 364,1610 362,1568 345,1482 280,1513 257,1498 345,1347 428,1297"/>
<polygon data-region="south-wales-coast" points="395,1626 437,1703 430,1793 442,1860 418,1958 428,1971 458,1971 490,1943 510,1953 542,1946 574,2018 550,2060 522,2058 470,2078 453,2093 430,2073 402,2030 347,2060 326,2051 330,2028 370,1993 280,1978 193,2031 158,1985 158,1936 146,1908 183,1856 327,1763"/>
<polygon data-region="shropshire" points="545,1478 572,1452 613,1472 622,1440 665,1450 690,1432 765,1342 798,1385 800,1470 828,1500 832,1545 840,1568 805,1613 785,1613 775,1588 733,1603 730,1678 708,1670 643,1733 603,1700 580,1715 536,1678 556,1638 562,1568"/>
<polygon data-region="west-midlands-east" points="733,1603 775,1588 785,1613 805,1613 808,1638 838,1668 868,1685 865,1698 852,1706 840,1698 787,1708 785,1690 760,1680 730,1678"/>
<polygon data-region="warwickshire" points="580,1715 603,1700 643,1733 708,1670 730,1678 760,1680 785,1690 787,1708 840,1698 852,1706 865,1698 868,1685 838,1668 808,1638 805,1613 840,1568 855,1616 895,1653 914,1695 890,1793 848,1873 826,1873 806,1818 790,1856 712,1873 696,1858 672,1876 670,1912 638,1940 558,1873 550,1833 555,1778"/>
<polygon data-region="east-anglia" points="1050,1590 1145,1580 1195,1515 1222,1508 1257,1447 1350,1452 1410,1480 1465,1545 1478,1638 1442,1826 1402,1880 1357,1890 1295,1875 1275,1833 1222,1836 1195,1831 1160,1863 1113,1833 1097,1786 1057,1728 1072,1663 1067,1628"/>
<polygon data-region="bedfordshire" points="890,1793 908,1856 933,1858 955,1835 980,1848 985,1813 1017,1781 1032,1820 1017,1903 1040,1943 1018,1960 1050,2036 1050,2095 998,2153 897,2135 860,2153 838,2068 824,2000 826,1873 848,1873"/>
<polygon data-region="cambridgeshire" points="1057,1728 1097,1786 1113,1833 1160,1863 1175,1932 1142,2006 1112,2008 1050,2036 1018,1960 1040,1943 1017,1903 1032,1820 1017,1781"/>
<polygon data-region="essex" points="1160,1863 1195,1831 1222,1836 1275,1833 1295,1875 1357,1890 1380,1896 1385,1920 1360,1958 1308,1961 1320,1988 1318,2015 1258,2026 1302,2038 1302,2065 1240,2065 1218,2091 1190,2086 1203,2053 1183,2028 1142,2006 1175,1932"/>
<polygon data-region="kent" points="1172,2117 1190,2086 1195,2098 1272,2103 1266,2135 1298,2110 1327,2146 1355,2136 1417,2143 1407,2234 1345,2276 1327,2330 1307,2330 1296,2295 1265,2293 1155,2236 1153,2168"/>
<polygon data-region="surrey-sussex" points="1050,2095 1085,2125 1083,2155 1100,2148 1115,2160 1145,2158 1155,2168 1155,2236 1265,2293 1296,2295 1307,2330 1197,2403 1104,2371 993,2410 968,2365 973,2295 1000,2258 985,2210 1000,2195 998,2153"/>
<polygon data-region="hampshire" points="860,2153 897,2135 998,2153 1000,2195 985,2210 1000,2258 973,2295 968,2365 958,2383 948,2368 940,2378 930,2368 914,2376 867,2335 888,2383 822,2410 775,2303 832,2310 831,2215"/>
<polygon data-region="wiltshire" points="638,1940 670,1912 672,1876 696,1858 712,1873 790,1856 806,1818 826,1873 824,2000 838,2068 860,2153 831,2215 832,2310 775,2303 743,2315 718,2268 702,2263 713,2188 708,2158 677,2175 574,2158 607,2094 632,2092 634,2058 660,2005 636,2018"/>
<polygon data-region="somerset" points="432,2196 560,2216 574,2158 677,2175 708,2158 713,2188 702,2263 718,2268 743,2315 775,2303 822,2410 815,2415 757,2420 767,2448 760,2468 663,2466 582,2418 581,2372 420,2243"/>
<polygon data-region="devon" points="350,2215 432,2196 420,2243 581,2372 582,2418 520,2443 474,2505 474,2565 442,2635 411,2632 392,2598 364,2596 338,2523 278,2330 283,2295 322,2293"/>
<polygon data-region="cornwall-west" points="278,2330 295,2340 338,2523 325,2565 242,2588 224,2626 176,2648 172,2715 152,2736 103,2680 58,2700 62,2663 134,2613 176,2540 190,2486 224,2466 262,2408"/>
<polygon data-region="south-london" points="1095,2112 1122,2118 1145,2106 1172,2117 1155,2168 1145,2158 1115,2160 1100,2148 1083,2155 1085,2130"/>
<polygon data-region="inner-london" points="1050,2036 1112,2008 1142,2006 1183,2028 1203,2053 1172,2117 1145,2106 1122,2118 1095,2112 1085,2125 1050,2095"/>
<polygon class="c" data-region="isle-of-wight-east" points="897,2398 932,2431 915,2471 897,2480 860,2443 856,2433"/>
<polygon class="c" data-region="anglesey-north" points="272,1263 302,1250 358,1305 317,1380 300,1377 265,1305"/>
<polygon class="c" data-region="galloway-west" points="-5,130 35,130 5,222 -5,228"/>
<polygon class="c" data-region="ayrshire" points="72,130 200,130 178,220 120,198 118,262 155,280 170,338 165,370 137,372 108,310 82,395 50,410"/>
<polygon class="c" data-region="down-coast" points="-5,545 0,545 5,580 52,658 15,722 85,728 98,785 95,825 85,832 65,805 72,775 80,855 72,890 27,903 10,962 0,972 -5,975"/>
<polygon data-region="france-coast" points="1535,2308 1453,2366 1447,2530 1460,2578 1495,2580 1535,2620"/>
<polygon data-region="belgium-coast" points="1460,2578 1442,2586 1451,2640 1412,2700 1465,2775 1535,2775 1535,2620 1495,2580"/>
<polygon data-region="picardy-coast" points="1412,2700 1300,2775 1465,2775"/>
<path class="inner-right" d="M1112,2008 1118,2030 1140,2040 1165,2060 1170,2080M1118,2030 1100,2060 1098,2090 1120,2120M1145,2105 1145,2085M1115,2050 1135,2085"/>
</g>
<g id="right-outlines"></g>
<polyline class="coast" points="1535,2308 1453,2366 1447,2530 1460,2578 1442,2586 1451,2640 1412,2700 1300,2775"/>
<polyline class="coast" points="1098,2088 1125,2076 1140,2082 1165,2076 1190,2086 1195,2098"/>
</g>
</g>
<rect x="1768" y="114" width="1733" height="2186" fill="none" stroke="#3c3c3c" stroke-width="3.5"/>

<g clip-path="url(#clip-legend)">
<g id="left-legend">
<rect x="90" y="2345" width="1574" height="300" rx="9" fill="#fff" stroke="#d9d9d9" stroke-width="3.5"/>
<text x="876" y="2396" font-size="43" text-anchor="middle" textLength="367" lengthAdjust="spacingAndGlyphs">% increase mortality</text>
</g>
<g id="right-legend">
<rect x="1892" y="2345" width="1467" height="300" rx="9" fill="#fff" stroke="#d9d9d9" stroke-width="3.5"/>
<text x="2624" y="2396" font-size="43" text-anchor="middle" textLength="374" lengthAdjust="spacingAndGlyphs">% increase mortality</text>
</g>
</g>
</svg>

<script>
const binColors = ["#053061","#195a9c","#337fb8","#569fc9","#87beda","#b5d6e8","#d9e8f2","#f7f7f7","#fbe3d5","#f9c4a9","#ef9b7a","#dc6a52","#c13639","#9b1127","#67001f"];
const missingColor = "#d3d3d3";

const europeBinEdges = [-146,-127,-107,-88,-68,-49,-29,-10,10,29,49,68,88,107,127,146];
const englandBinEdges = [-88,-76,-65,-53,-41,-29,-18,-6,6,18,29,41,53,65,76,88];

const europeRegionNames = ["norway","vesteralen","soroya","sweden-north","sweden-central","stockholm","gotland","oland","bornholm","finland","helsinki",
"estonia","saaremaa","hiiumaa","latvia","lithuania","vilnius","jutland","fyn","zealand","germany","poland","ireland","northern-ireland",
"outer-hebrides","shetland","orkney","scottish-highlands","france",
"great-britain","devon-dorset","cornwall","north-wales","south-wales","lincolnshire","greater-manchester","merseyside","west-midlands","herts-beds","london","isle-of-wight","anglesey",
"netherlands","groningen","limburg-nl","belgium","hainaut","liege","limburg-be","brussels","eupen","luxembourg",
"nord","picardy","ile-de-france","champagne","lorraine","alsace","burgundy","franche-comte","rhone-alpes",
"switzerland","austria","vienna-styria","czechia","slovakia","hungary","romania","bulgaria","serbia","croatia","slovenia","bosnia","montenegro","kosovo","north-macedonia","albania",
"greece","peloponnese","euboea","lesbos","chios","rhodes","kefalonia","crete",
"italy","piedmont","aosta","lombardy","trentino","verona","veneto","emilia","liguria","tuscany","marche","abruzzo","molise","puglia","sicily","sardinia","corsica",
"spain","portugal","algarve","galicia","asturias","castilla-leon","basque","navarra","la-rioja","aragon","catalonia","castilla-la-mancha","madrid","extremadura","andalusia","valencia","murcia","mallorca","menorca","ibiza"];
const europeRegionValues = [0,0,0,0,20,60,20,20,0,0,20,
0,0,0,0,0,20,0,0,0,null,0,null,20,
20,20,20,20,0,
40,20,0,20,20,20,60,60,60,60,78,40,20,
20,0,40,20,40,40,40,60,40,0,
20,40,60,20,40,60,20,20,20,
0,0,20,0,0,0,0,0,0,null,null,null,0,null,null,null,
0,0,0,0,0,0,0,0,
0,40,20,98,40,60,20,40,40,20,40,20,20,20,0,0,0,
40,20,0,0,20,60,40,60,40,40,78,117,136,40,20,20,0,20,20,20];

const englandRegionNames = ["gb-mainland","dumfries","borders","cumbria","northumberland","lancashire","tees-valley","north-yorkshire","cheshire","west-yorkshire","greater-manchester-east","merseyside-north","wirral","south-yorkshire","east-yorkshire","lincolnshire-east","leicestershire","derbyshire","staffordshire","herefordshire","north-wales-coast","south-wales-coast","shropshire","west-midlands-east","warwickshire","east-anglia","bedfordshire","cambridgeshire","essex","kent","surrey-sussex","hampshire","wiltshire","somerset","devon","cornwall-west","south-london","inner-london","isle-of-wight-east","anglesey-north","galloway-west","ayrshire","down-coast","france-coast","belgium-coast","picardy-coast"];
const englandRegionValues = [24,47,35,24,35,47,47,35,35,47,59,47,47,47,24,12,47,35,47,35,24,24,35,59,47,35,47,59,47,35,47,35,35,24,12,12,70,82,35,24,24,24,24,12,35,12];

const europeLegendRows = [4,4,4,3];
const englandLegendRows = [4,4,4,3];
const legendRowYs = [2442,2506,2569,2632];

const SVG_NS = "http://www.w3.org/2000/svg";

function binIndex(edges, value) {
  for (let i = 0; i < edges.length - 1; i++) {
    if (value <= edges[i + 1]) return i;
  }
  return edges.length - 2;
}

function regionColor(edges, value) {
  if (value === null || value === undefined || Number.isNaN(value)) return missingColor;
  return binColors[binIndex(edges, value)];
}

function paintRegions(rootId, names, values, edges) {
  const root = document.getElementById(rootId);
  names.forEach(function (name, i) {
    const poly = root.querySelector('[data-region="' + name + '"]');
    if (poly) poly.setAttribute('fill', regionColor(edges, values[i]));
  });
}

function addOutlines(rootId, targetId) {
  const root = document.getElementById(rootId);
  const target = document.getElementById(targetId);
  root.querySelectorAll('polygon.c').forEach(function (src) {
    const el = src.cloneNode(false);
    el.removeAttribute('data-region');
    el.setAttribute('class', 'outline');
    
    
    const t = src.parentNode.getAttribute('transform');
    if (t) el.setAttribute('transform', t);
    target.appendChild(el);
  });
}

function pad(value, width) {
  return String(value).padStart(width, ' ');
}

function drawLegend(groupId, edges, width, rowsPerCol, markerXs, textXs, squeeze) {
  const group = document.getElementById(groupId);
  let bin = 0;
  rowsPerCol.forEach(function (rows, col) {
    for (let row = 0; row < rows; row++) {
      const left = edges[bin];
      const right = edges[bin + 1];
      const marker = document.createElementNS(SVG_NS, 'circle');
      
      
      marker.setAttribute('cx', markerXs[col]);
      marker.setAttribute('cy', legendRowYs[row]);
      marker.setAttribute('r', 18);
      marker.setAttribute('fill', binColors[bin]);
      group.appendChild(marker);
      const label = document.createElementNS(SVG_NS, 'text');
      
      
      label.setAttribute('transform', 'translate(' + textXs[col] + ' ' + (legendRowYs[row] + 16) + ') scale(' + squeeze + ' 1)');
      label.setAttribute('font-size', 43);
      label.setAttribute('xml:space', 'preserve');
      label.textContent = (bin === 0 ? '[' : '(') + pad(left, width) + ', ' + pad(right, width) + ']';
      group.appendChild(label);
      bin++;
    }
  });
}

paintRegions('left-regions', europeRegionNames, europeRegionValues, europeBinEdges);
paintRegions('right-regions', englandRegionNames, englandRegionValues, englandBinEdges);
addOutlines('left-regions', 'left-outlines');
addOutlines('right-regions', 'right-outlines');
drawLegend('left-legend', europeBinEdges, 4, europeLegendRows, [142,563,957,1350], [213,633,1029,1421], 0.903);
drawLegend('right-legend', englandBinEdges, 3, englandLegendRows, [1948,2329,2710,3087], [2019,2402,2783,3159], 0.933);
</script>
</body>
</html>
